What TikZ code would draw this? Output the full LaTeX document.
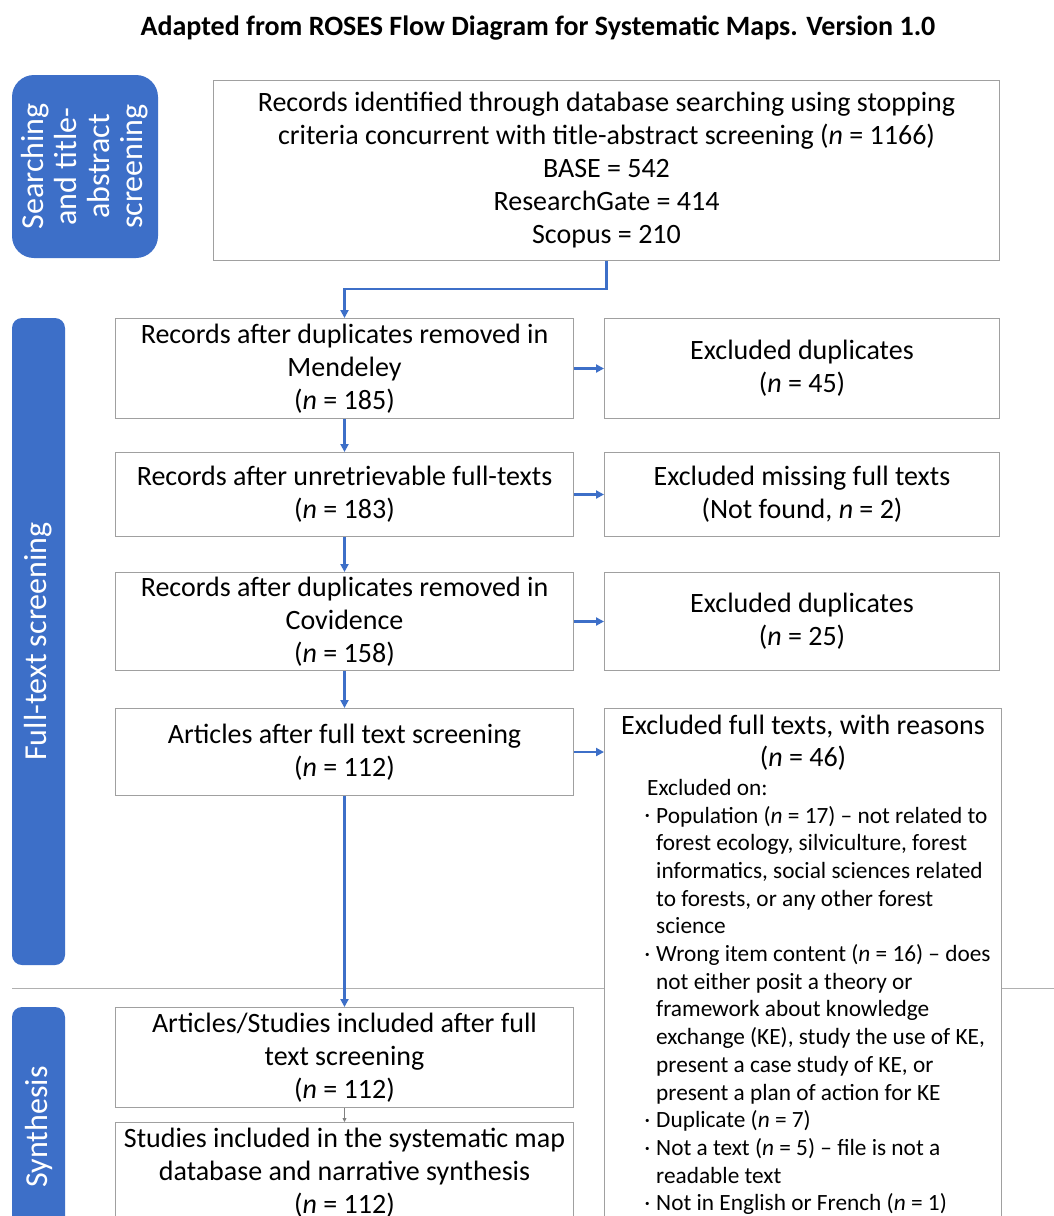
\documentclass[tikz,border=0pt]{standalone}
\usepackage{fontspec}
\setmainfont{Carlito}
\usetikzlibrary{arrows.meta}
\definecolor{roseblue}{HTML}{3D6FC8}
\definecolor{boxline}{HTML}{A0A0A0}
\definecolor{divline}{HTML}{B0B0B0}
\newcommand\bul{\makebox[11pt][l]{\raisebox{0.18em}{\fontsize{9}{9}\selectfont\textbullet}}}
\newcommand\ind{\hspace*{11pt}}
\begin{document}
\begin{tikzpicture}[x=1pt,y=-1pt,
  box/.style={draw=boxline, line width=1pt, fill=white, anchor=north west, inner sep=0pt,
    align=center, font=\fontsize{28}{33}\selectfont},
  side/.style={fill=roseblue, text=white, rotate=90, align=center, inner sep=0pt,
    font=\fontsize{32}{33}\selectfont},
  txt/.style={inner sep=0pt, align=center, font=\fontsize{28}{32}\selectfont},
  lst/.style={inner sep=0pt, align=left, anchor=north west, font=\fontsize{23.3}{27.7}\selectfont},
  flow/.style={draw=roseblue, line width=2.2pt, -{Triangle[length=8pt,width=8pt]}},
  thin/.style={draw=gray, line width=0.8pt, -{Triangle[length=4pt,width=4pt]}}
]
\useasboundingbox (0,0) rectangle (1054,1216);
\fill[white] (0,0) rectangle (1054,1216);

% title
\node[inner sep=0pt, font=\fontsize{28}{30}\selectfont\bfseries] (title) at (538,28)
  {Adapted from ROSES Flow Diagram for Systematic Maps. Version 1.0};

% divider
\coordinate (dl) at (12,988);
\coordinate (dr) at (1054,988);
\draw[divline, line width=1pt] (dl) -- (dr);

% side labels
\node[side, minimum width=183pt, minimum height=146pt, rounded corners=22pt] (s1) at (85,166.5)
  {Searching\\and title-\\abstract\\screening};
\node[side, minimum width=647pt, minimum height=53pt, rounded corners=10pt] (s2) at (38.5,641.5)
  {Full-text screening};
\node[side, minimum width=240pt, minimum height=53pt, rounded corners=10pt] (s3) at (38.5,1127)
  {Synthesis};

% main boxes
\node[box, minimum width=786pt, minimum height=180pt] (A) at (213,80)
  {Records identified through database searching using stopping\\
   criteria concurrent with title-abstract screening (\textit{n} = 1166)\\
   BASE = 542\\ResearchGate = 414\\Scopus = 210};
\node[box, minimum width=458pt, minimum height=100pt] (B) at (115,318)
  {Records after duplicates removed in\\Mendeley\\(\textit{n} = 185)};
\node[box, minimum width=395pt, minimum height=100pt] (B2) at (604,318)
  {Excluded duplicates\\(\textit{n} = 45)};
\node[box, minimum width=458pt, minimum height=84pt] (C) at (115,452)
  {Records after unretrievable full-texts\\(\textit{n} = 183)};
\node[box, minimum width=395pt, minimum height=84pt] (C2) at (604,452)
  {Excluded missing full texts\\(Not found, \textit{n} = 2)};
\node[box, minimum width=458pt, minimum height=98pt] (D) at (115,572)
  {Records after duplicates removed in\\Covidence\\(\textit{n} = 158)};
\node[box, minimum width=395pt, minimum height=98pt] (D2) at (604,572)
  {Excluded duplicates\\(\textit{n} = 25)};
\node[box, minimum width=458pt, minimum height=87pt] (E) at (115,708)
  {Articles after full text screening\\(\textit{n} = 112)};
\node[box, minimum width=397pt, minimum height=530pt] (E2) at (604,708) {};
\node[txt] (E2t) at (803,743) {Excluded full texts, with reasons\\(\textit{n} = 46)};
\node[lst] (E2l) at (645,779) {%
  \hspace*{2pt}Excluded on:\\
  \bul Population (\textit{n} = 17) – not related to\\
  \ind forest ecology, silviculture, forest\\
  \ind informatics, social sciences related\\
  \ind to forests, or any other forest\\
  \ind science\\
  \bul Wrong item content (\textit{n} = 16) – does\\
  \ind not either posit a theory or\\
  \ind framework about knowledge\\
  \ind exchange (KE), study the use of KE,\\
  \ind present a case study of KE, or\\
  \ind present a plan of action for KE\\
  \bul Duplicate (\textit{n} = 7)\\
  \bul Not a text (\textit{n} = 5) – file is not a\\
  \ind readable text\\
  \bul Not in English or French (\textit{n} = 1)};
\node[box, minimum width=458pt, minimum height=100pt] (F) at (115,1007)
  {Articles/Studies included after full\\text screening\\(\textit{n} = 112)};
\node[box, minimum width=458pt, minimum height=100pt] (G) at (115,1122)
  {Studies included in the systematic map\\database and narrative synthesis\\(\textit{n} = 112)};

% connectors
\draw[flow] (A.south) -- ++(0,28) -| (B.north);
\draw[flow] (B.south) -- (C.north);
\draw[flow] (C.south) -- (D.north);
\draw[flow] (D.south) -- (E.north);
\draw[flow] (E.south) -- (F.north);
\draw[thin] (F.south) -- (G.north);
\draw[flow] (B.east) -- (B2.west);
\draw[flow] (C.east) -- (C2.west);
\draw[flow] (D.east) -- (D2.west);
\draw[flow] (E.east) -- (E2.west |- E.east);
\end{tikzpicture}
\end{document}
